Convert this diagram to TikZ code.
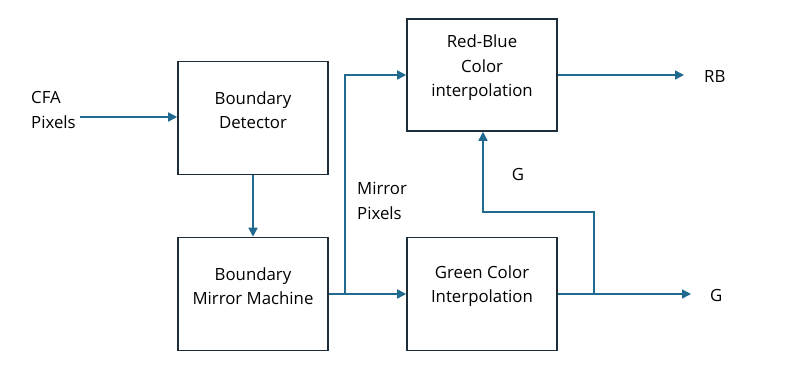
\documentclass[tikz,border=0pt]{standalone}
\usepackage{fontspec}
\setmainfont{Open Sans}
\usetikzlibrary{arrows.meta}
\definecolor{linec}{HTML}{1F6A8E}
\definecolor{boxc}{HTML}{1E2D3A}
\tikzset{
  blk/.style={draw=boxc, line width=1.6pt, fill=white, minimum width=150pt, minimum height=113pt, inner sep=0pt},
  btxt/.style={inner sep=0pt, align=center, font=\fontsize{16.8pt}{24.5pt}\selectfont},
  lbl/.style={inner sep=0pt, align=left, font=\fontsize{16.8pt}{24.5pt}\selectfont},
  conn/.style={draw=linec, line width=1.6pt, -{Triangle[length=9pt,width=9pt]}},
  plain/.style={draw=linec, line width=1.6pt}
}
\begin{document}
\begin{tikzpicture}[x=1pt,y=-1pt]
\useasboundingbox (0,0) rectangle (812,367);
\node[blk] (bd) at (253,118) {};
\node[blk] (bmm) at (253,294) {};
\node[blk, minimum height=112pt] (rb) at (482,75) {};
\node[blk] (gci) at (482,294) {};
\node[btxt] (bdt) at (253,110) {Boundary\\Detector};
\node[btxt] (bmmt) at (253,286) {Boundary\\Mirror Machine};
\node[btxt] (rbt) at (482,68) {Red-Blue\\Color\\interpolation};
\node[btxt] (gcit) at (482,286) {Green Color\\Interpolation};
\node[lbl, anchor=west] (cfa) at (31,110) {CFA\\Pixels};
\node[lbl, anchor=west] (mp) at (357,201) {Mirror\\Pixels};
\node[lbl, anchor=west] (rbl) at (704,77) {RB};
\node[lbl, anchor=west] (gl) at (710,295) {G};
\node[lbl] (gfb) at (518,174) {G};
\coordinate (cfaend) at (80,117);
\coordinate (j1) at (345,294);
\coordinate (j1t) at (345,75);
\coordinate (rbend) at (684,75);
\coordinate (gend) at (691,294);
\coordinate (j2) at (594,294);
\coordinate (j2t) at (594,212);
\coordinate (fbc) at (483,212);
\draw[conn] (cfaend) -- (cfaend -| bd.west);
\draw[conn] (bd) -- (bmm);
\draw[conn] (bmm.east) -- (gci.west);
\draw[conn] (j1) -- (j1t) -- (rb.west |- j1t);
\draw[conn] (rb.east |- rbend) -- (rbend);
\draw[conn] (gci.east) -- (gend);
\draw[conn] (j2) -- (j2t) -- (fbc) -- (fbc |- rb.south);
\end{tikzpicture}
\end{document}
